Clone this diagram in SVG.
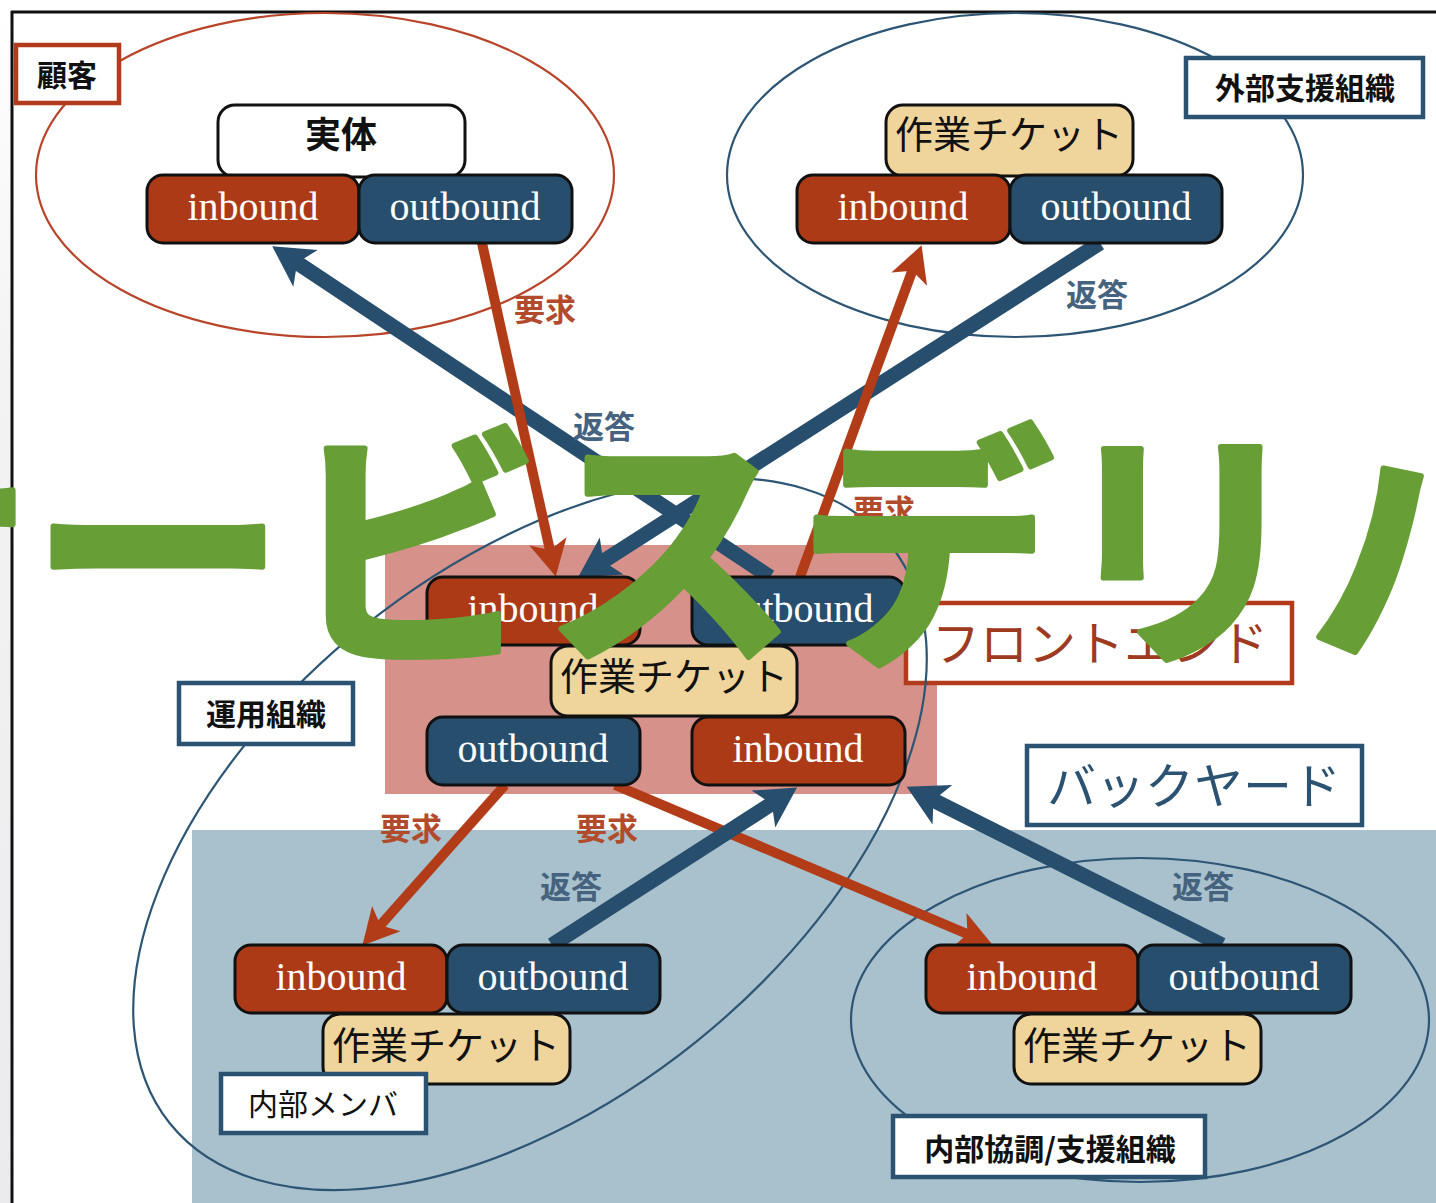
<svg xmlns="http://www.w3.org/2000/svg" width="1436" height="1203" viewBox="0 0 1436 1203">
<style>
.cjk{font-family:"Noto Sans CJK JP","Noto Sans",sans-serif}
.lat{font-family:"Liberation Serif","DejaVu Serif",serif;font-size:40px;fill:#fff;text-anchor:middle}
.red{fill:#ad3a17;stroke:#111;stroke-width:3}
.blue{fill:#274e6c;stroke:#111;stroke-width:3}
.tan{fill:#efd49b;stroke:#111;stroke-width:3}
.wht{fill:#fff;stroke:#111;stroke-width:3}
.tk{font-size:38px;fill:#111;text-anchor:middle}
.lbb{fill:#fff;stroke:#2b5271;stroke-width:4.5}
.lbr{fill:#fff;stroke:#b13b1b;stroke-width:4.5}
.lt{font-size:30px;font-weight:bold;fill:#111;text-anchor:middle}
.ltn{font-size:30px;font-weight:normal;fill:#111;text-anchor:middle}
.eb{fill:none;stroke:#2d5574;stroke-width:2.2}
.er{fill:none;stroke:#b8452a;stroke-width:2.2}
.cb{stroke:#274e6c;stroke-width:15;fill:none}
.cr{stroke:#b23c18;stroke-width:10;fill:none}
.qr{font-size:31px;font-weight:bold;fill:#b24a2c;text-anchor:middle}
.qb{font-size:31px;font-weight:bold;fill:#45637e;text-anchor:middle}
</style>
<defs>
<linearGradient id="lg" x1="0" y1="0" x2="0" y2="1">
<stop offset="0" stop-color="#ffffff"/>
<stop offset="0.3" stop-color="#f3f3f4"/>
<stop offset="1" stop-color="#ebebed"/>
</linearGradient>
<marker id="ab" markerUnits="userSpaceOnUse" markerWidth="50" markerHeight="50" viewBox="-20 -25 50 50" refX="0" refY="0" orient="auto">
<path d="M25,0 L-15,-22 L-5,0 L-15,22 Z" fill="#274e6c"/>
</marker>
<marker id="ar" markerUnits="userSpaceOnUse" markerWidth="46" markerHeight="46" viewBox="-18 -23 46 46" refX="0" refY="0" orient="auto">
<path d="M22,0 L-14,-19 L-5,0 L-14,19 Z" fill="#b23c18"/>
</marker>
</defs>
<rect x="0" y="0" width="1436" height="1203" fill="#fff"/>
<rect x="0" y="12" width="11" height="1191" fill="url(#lg)"/>
<g id="frame" stroke="#111" stroke-width="3">
<line x1="11" y1="12" x2="1436" y2="12"/>
<line x1="12" y1="11" x2="12" y2="1203"/>
</g>
<g id="backyard-area"><rect x="192" y="830" width="1244" height="373" fill="#a9c0cd"/></g>
<g id="frontend-area"><rect x="385" y="545" width="552" height="249" fill="#d5918a"/></g>
<g id="label-frontend">
<rect class="lbr" x="906" y="603" width="386" height="80"/>
<text class="cjk" x="1100" y="661" font-size="48" fill="#9d3a20" text-anchor="middle">フロントエンド</text>
</g>
<g id="label-backyard">
<rect class="lbb" x="1027" y="746" width="335" height="79"/>
<text class="cjk" x="1194" y="804" font-size="49" fill="#2b5271" text-anchor="middle">バックヤード</text>
</g>
<g id="ellipses">
<ellipse id="customer-ellipse" class="er" cx="325" cy="175" rx="289" ry="162"/>
<ellipse id="external-ellipse" class="eb" cx="1015" cy="175" rx="288" ry="162"/>
<ellipse id="ops-ellipse" class="eb" cx="530" cy="834" rx="462" ry="266" transform="rotate(-38.8 530 834)"/>
<ellipse id="internal-ellipse" class="eb" cx="1140" cy="1020" rx="289" ry="162"/>
</g>
<g id="connectors">
<line class="cb" x1="770" y1="577" x2="293" y2="260" marker-end="url(#ab)"/>
<line class="cr" x1="482" y1="243" x2="551" y2="555" marker-end="url(#ar)"/>
<line class="cb" x1="1100" y1="243" x2="599" y2="564" marker-end="url(#ab)"/>
<line class="cr" x1="800" y1="577" x2="914" y2="266" marker-end="url(#ar)"/>
<line class="cr" x1="505" y1="785" x2="377" y2="929" marker-end="url(#ar)"/>
<line class="cr" x1="615" y1="785" x2="972" y2="936" marker-end="url(#ar)"/>
<line class="cb" x1="552" y1="945" x2="776" y2="801" marker-end="url(#ab)"/>
<line class="cb" x1="1222" y1="945" x2="929" y2="798" marker-end="url(#ab)"/>
</g>
<g id="node-customer">
<rect class="wht" x="218" y="105" width="247" height="72" rx="17"/>
<text class="cjk" x="341" y="148" font-size="36" font-weight="bold" fill="#111" text-anchor="middle">実体</text>
<rect class="red" x="147" y="175" width="212" height="68" rx="16"/>
<text class="lat" x="253" y="220">inbound</text>
<rect class="blue" x="359" y="175" width="213" height="68" rx="16"/>
<text class="lat" x="465" y="220">outbound</text>
</g>
<g id="node-external">
<rect class="tan" x="886" y="105" width="247" height="71" rx="17"/>
<text class="cjk tk" x="1009" y="148">作業チケット</text>
<rect class="red" x="797" y="175" width="213" height="68" rx="16"/>
<text class="lat" x="903" y="220">inbound</text>
<rect class="blue" x="1010" y="175" width="212" height="68" rx="16"/>
<text class="lat" x="1116" y="220">outbound</text>
</g>
<g id="node-frontend">
<rect class="red" x="427" y="577" width="213" height="68" rx="16"/>
<text class="lat" x="533" y="622">inbound</text>
<rect class="blue" x="692" y="577" width="213" height="68" rx="16"/>
<text class="lat" x="798" y="622">outbound</text>
<rect class="tan" x="551" y="646" width="246" height="70" rx="17"/>
<text class="cjk tk" x="674" y="690">作業チケット</text>
<rect class="blue" x="427" y="717" width="213" height="68" rx="16"/>
<text class="lat" x="533" y="762">outbound</text>
<rect class="red" x="692" y="717" width="213" height="68" rx="16"/>
<text class="lat" x="798" y="762">inbound</text>
</g>
<g id="node-member">
<rect class="red" x="235" y="945" width="212" height="68" rx="16"/>
<text class="lat" x="341" y="990">inbound</text>
<rect class="blue" x="447" y="945" width="213" height="68" rx="16"/>
<text class="lat" x="553" y="990">outbound</text>
<rect class="tan" x="323" y="1014" width="247" height="70" rx="17"/>
<text class="cjk tk" x="446" y="1059">作業チケット</text>
</g>
<g id="node-internal">
<rect class="red" x="926" y="945" width="212" height="68" rx="16"/>
<text class="lat" x="1032" y="990">inbound</text>
<rect class="blue" x="1138" y="945" width="213" height="68" rx="16"/>
<text class="lat" x="1244" y="990">outbound</text>
<rect class="tan" x="1014" y="1014" width="247" height="70" rx="17"/>
<text class="cjk tk" x="1137" y="1059">作業チケット</text>
</g>
<g id="labels">
<g id="label-customer"><rect class="lbr" x="16" y="45" width="103" height="58"/><text class="cjk lt" x="67" y="86">顧客</text></g>
<g id="label-external"><rect class="lbb" x="1186" y="58" width="237" height="59"/><text class="cjk lt" x="1305" y="99" font-size="31">外部支援組織</text></g>
<g id="label-ops"><rect class="lbb" x="179" y="683" width="174" height="61"/><text class="cjk lt" x="266" y="725">運用組織</text></g>
<g id="label-member"><rect class="lbb" x="221" y="1074" width="205" height="59"/><text class="cjk ltn" x="323" y="1115">内部メンバ</text></g>
<g id="label-internal"><rect class="lbb" x="893" y="1116" width="312" height="61"/><text class="cjk lt" x="1050" y="1160" font-size="29">内部協調/支援組織</text></g>
</g>
<g id="connector-labels">
<text class="cjk qr" x="545" y="321">要求</text>
<text class="cjk qb" x="604" y="438">返答</text>
<text class="cjk qb" x="1097" y="306">返答</text>
<text class="cjk qr" x="884" y="522">要求</text>
<text class="cjk qr" x="411" y="840">要求</text>
<text class="cjk qr" x="607" y="840">要求</text>
<text class="cjk qb" x="571" y="898">返答</text>
<text class="cjk qb" x="1203" y="898">返答</text>
</g>
<g id="overlay-title">
<text class="cjk" x="-226" y="645" font-size="256" font-weight="bold" fill="#679e36" stroke="#679e36" stroke-width="6" stroke-linejoin="round">サービスデリバリー</text>
</g>
</svg>
